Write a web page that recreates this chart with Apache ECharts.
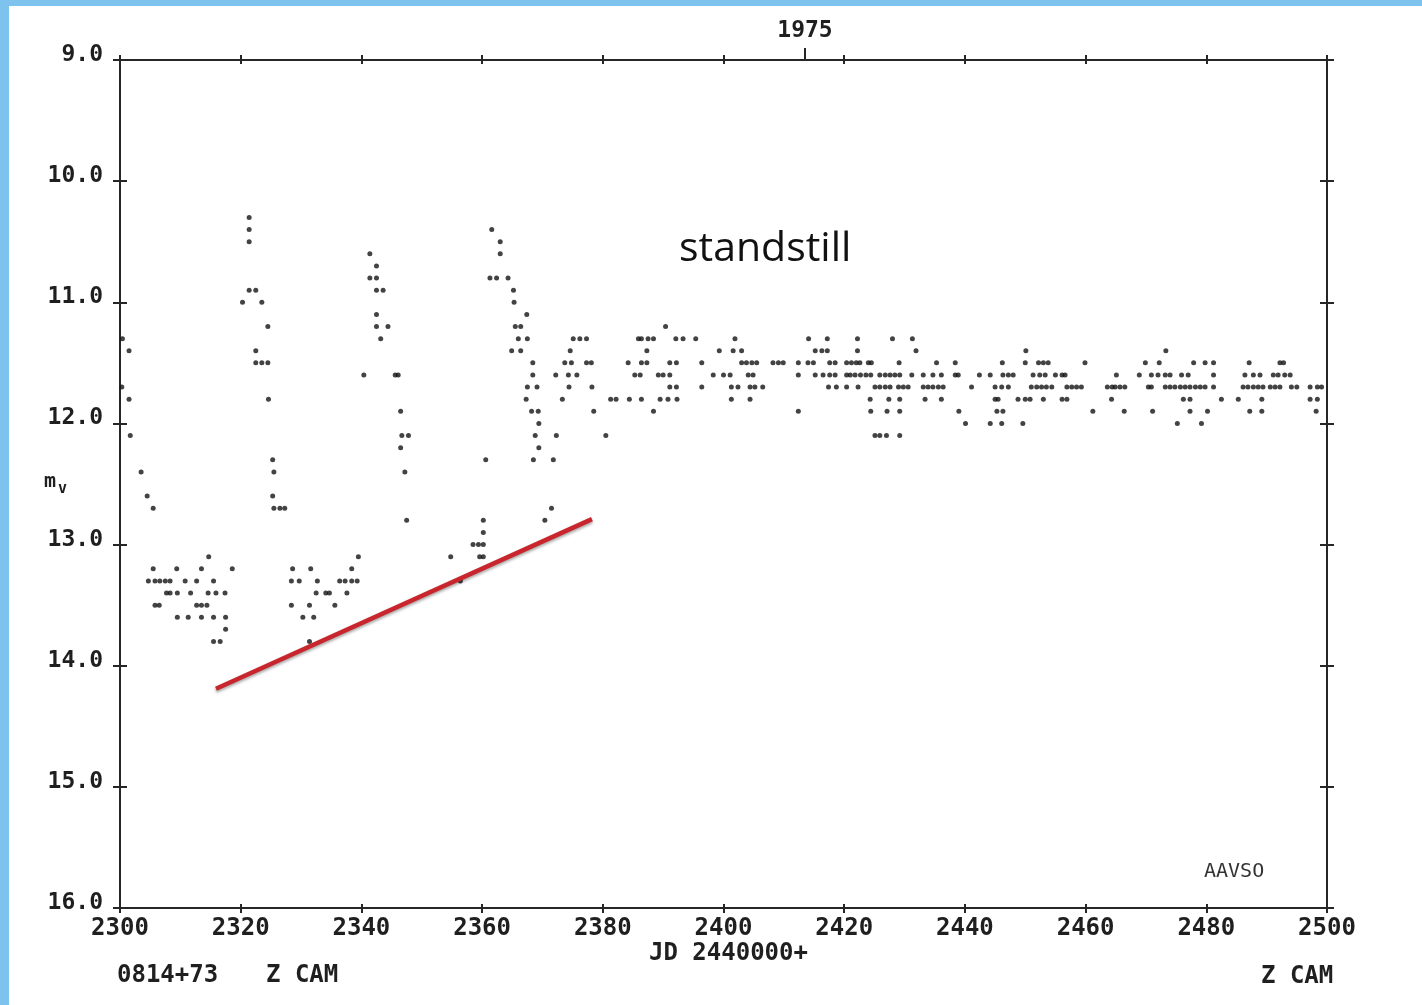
<!DOCTYPE html>
<html><head><meta charset="utf-8">
<script src="https://cdn.jsdelivr.net/npm/echarts@6/dist/echarts.min.js"></script>
<style>html,body{margin:0;padding:0;background:#fff}#c{width:1422px;height:1005px}</style>
</head><body><div id="c"></div><script>
// ---- axis definitions ----
const xRange = [2300, 2500];
const xStep = 20;
const yRange = [9, 16];
const yStep = 1;
const yearTickDays = [2413.5];
const yearTickLabels = ['1975'];

// ---- observations [JD-2440000, magnitude] ----
const declineAndQuiet1 = [
  [2300.4,11.3],[2301.5,11.4],[2300.3,11.7],[2301.5,11.8],[2301.7,12.1],[2303.5,12.4],[2304.5,12.6],[2305.5,12.7],
  [2314.7,13.1],
  [2305.5,13.2],[2309.4,13.2],[2313.5,13.2],[2318.6,13.2],
  [2304.7,13.3],[2305.8,13.3],[2306.6,13.3],[2307.5,13.3],[2308.3,13.3],[2310.8,13.3],[2312.7,13.3],[2315.5,13.3],
  [2307.7,13.4],[2308.3,13.4],[2309.5,13.4],[2311.7,13.4],[2314.6,13.4],[2315.9,13.4],[2317.4,13.4],
  [2305.8,13.5],[2306.5,13.5],[2312.7,13.5],[2313.5,13.5],[2314.4,13.5],
  [2309.5,13.6],[2311.3,13.6],[2313.5,13.6],[2315.5,13.6],[2317.5,13.6],
  [2317.5,13.7],[2315.5,13.8],[2316.6,13.8]
];
const outburst1 = [
  [2321.4,10.3],[2321.4,10.4],[2321.4,10.5],[2321.4,10.9],[2322.5,10.9],[2320.3,11.0],[2323.5,11.0],
  [2324.5,11.2],[2322.5,11.4],[2322.5,11.5],[2323.5,11.5],[2324.5,11.5],[2324.6,11.8],[2325.3,12.3],
  [2325.5,12.4],[2325.3,12.6],[2325.5,12.7],[2326.5,12.7],[2327.3,12.7]
];
const quiet2 = [
  [2339.5,13.1],
  [2328.6,13.2],[2331.6,13.2],[2338.4,13.2],
  [2328.4,13.3],[2329.7,13.3],[2332.7,13.3],[2336.4,13.3],[2337.3,13.3],[2338.4,13.3],[2339.3,13.3],
  [2332.5,13.4],[2334.1,13.4],[2334.7,13.4],[2337.6,13.4],
  [2328.4,13.5],[2331.4,13.5],[2335.6,13.5],
  [2330.3,13.6],[2332.1,13.6],[2331.4,13.8]
];
const outburst2 = [
  [2341.4,10.6],[2342.5,10.7],[2341.4,10.8],[2342.5,10.8],[2342.5,10.9],[2343.6,10.9],[2342.5,11.1],
  [2342.5,11.2],[2344.4,11.2],[2343.2,11.3],[2340.4,11.6],[2345.6,11.6],[2346.1,11.6],[2346.5,11.9],
  [2346.7,12.1],[2347.8,12.1],[2346.5,12.2],[2347.2,12.4],[2347.5,12.8]
];
const rise3 = [
  [2354.8,13.1],[2356.4,13.3],[2358.5,13.0],[2359.4,13.0],[2360.2,13.0],[2359.6,13.1],[2360.2,13.1],
  [2360.2,12.9],[2360.2,12.8],[2360.6,12.3]
];
const outburst3 = [
  [2361.6,10.4],[2363.0,10.5],[2363.0,10.6],[2361.3,10.8],[2362.4,10.8],[2364.3,10.8],[2365.2,10.9],
  [2365.3,11.0],[2367.4,11.1],[2365.5,11.2],[2366.4,11.2],[2366.0,11.3],[2367.5,11.3],[2364.9,11.4],
  [2366.4,11.4],[2368.4,11.5],[2368.4,11.6],[2367.5,11.7],[2369.1,11.7],[2367.3,11.8],[2368.2,11.9],
  [2369.3,11.9],[2369.4,12.0],[2368.8,12.1],[2372.3,12.1],[2369.4,12.2],[2368.5,12.3],[2371.8,12.3],
  [2371.5,12.7],[2370.4,12.8]
];
// standstill: [magnitude, days observed at that magnitude]
const standstillRows = [
  [11.2, [2390.4]],
  [11.3, [2375.1,2376.2,2377.3,2385.9,2386.4,2387.5,2388.4,2392.1,2393.3,2395.4,2401.9,2414.1,2417.2,2422.2,2428.0,2431.3]],
  [11.4, [2374.6,2387.3,2399.3,2401.6,2403.0,2415.2,2416.3,2417.2,2422.2,2431.9,2450.1,2473.3]],
  [11.5, [2373.7,2374.8,2377.3,2378.1,2384.2,2386.4,2387.3,2391.1,2392.2,2396.4,2403.0,2403.8,2404.7,2405.5,
          2408.2,2409.1,2409.9,2412.4,2414.0,2414.9,2417.6,2418.5,2420.4,2421.2,2422.0,2422.6,2424.0,2424.5,
          2429.1,2435.3,2438.4,2446.2,2450.0,2452.2,2453.0,2453.8,2459.9,2469.9,2472.2,2477.9,2479.8,2481.2,
          2487.1,2492.2,2492.8]],
  [11.6, [2372.2,2374.3,2375.7,2385.3,2386.2,2389.2,2390.0,2391.1,2398.3,2400.0,2401.1,2404.1,2404.9,2412.4,
          2415.2,2416.5,2417.6,2418.5,2420.4,2421.0,2421.8,2422.7,2423.6,2424.4,2425.9,2426.8,2427.6,2428.4,
          2429.2,2431.2,2433.1,2434.7,2436.1,2438.4,2438.9,2442.4,2444.2,2446.3,2447.2,2448.0,2451.3,2452.4,
          2453.3,2455.0,2456.1,2456.6,2465.1,2468.9,2470.9,2472.0,2473.2,2474.0,2475.9,2477.0,2481.2,2486.4,
          2487.8,2488.9,2491.1,2491.9,2493.0,2493.9]],
  [11.7, [2374.4,2378.2,2391.1,2392.2,2396.4,2401.3,2402.4,2404.4,2405.2,2406.5,2417.4,2418.7,2420.4,2422.3,
          2425.1,2425.9,2426.8,2427.6,2429.0,2429.8,2430.6,2433.1,2433.9,2434.7,2435.6,2436.4,2441.1,2445.0,
          2446.1,2447.2,2451.0,2451.9,2452.7,2453.5,2454.4,2456.9,2457.7,2458.5,2459.3,2463.6,2464.4,2464.9,
          2465.7,2466.5,2470.4,2470.9,2473.2,2474.0,2474.8,2475.7,2476.5,2477.3,2478.2,2479.0,2479.8,2481.2,
          2486.1,2486.9,2487.8,2488.6,2489.4,2490.6,2491.4,2492.2,2494.1,2495.0,2497.2,2498.4,2499.1]],
  [11.8, [2373.3,2381.3,2382.2,2384.4,2386.4,2389.5,2390.8,2392.3,2401.3,2404.4,2424.3,2427.4,2429.2,2433.4,
          2436.1,2445.0,2445.5,2448.8,2450.0,2450.8,2453.0,2456.1,2456.9,2464.3,2476.2,2477.3,2482.5,2485.3,
          2489.2,2497.2,2498.4]],
  [11.9, [2378.5,2388.4,2412.4,2424.4,2427.1,2429.2,2439.0,2445.3,2446.3,2461.2,2466.4,2471.1,2477.3,2480.2,
          2487.2,2489.2,2498.2]],
  [12.0, [2440.1,2444.2,2446.1,2449.6,2475.2,2479.2]],
  [12.1, [2380.5,2425.1,2425.9,2427.0,2429.2]]
];
// red trend line drawn on the chart (rising quiescent level)
const trendLine = [[2315.9,14.19],[2378.2,12.79]];

// ---- build ----
const standstillPts = [];
standstillRows.forEach(([m, days]) => days.forEach(d => standstillPts.push([d, m])));
const allPts = [].concat(declineAndQuiet1, outburst1, quiet2, outburst2, rise3, outburst3, standstillPts);

const MONO = 'DejaVu Sans Mono';
const INK = '#1f1f1f';
const lineStyle = {color: '#262626', width: 2};

function xAx(pos, opts) {
  return Object.assign({
    type: 'value', position: pos, min: xRange[0], max: xRange[1], interval: xStep,
    splitLine: {show: false}, axisLine: {show: false, lineStyle},
    axisTick: {show: true, inside: false, length: 5, lineStyle},
    axisLabel: {show: false}
  }, opts);
}
function yAx(pos, opts) {
  return Object.assign({
    type: 'value', position: pos, inverse: true, min: yRange[0], max: yRange[1], interval: yStep,
    splitLine: {show: false}, axisLine: {show: false, lineStyle},
    axisTick: {show: true, inside: false, length: 7, lineStyle},
    axisLabel: {show: false}
  }, opts);
}

const chart = echarts.init(document.getElementById('c'), null, {renderer: 'canvas'});
chart.setOption({
  animation: false,
  backgroundColor: '#ffffff',
  grid: {left: 120, right: 95, top: 60, bottom: 97, containLabel: false, outerBoundsMode: 'none'},
  xAxis: [
    xAx('bottom', {axisLine: {show: true, onZero: false, lineStyle},
      axisLabel: {show: true, margin: 9, fontFamily: MONO, fontSize: 24, fontWeight: 'bold', color: INK, formatter: v => String(v)}}),
    xAx('bottom', {axisTick: {show: true, inside: true, length: 4, lineStyle}}),
    xAx('top', {axisLine: {show: true, onZero: false, lineStyle}}),
    xAx('top', {axisTick: {show: true, inside: true, length: 4, lineStyle}}),
    xAx('top', {
      axisTick: {show: true, inside: false, length: 12, customValues: yearTickDays, lineStyle},
      axisLabel: {show: true, customValues: yearTickDays, margin: 17, fontFamily: MONO, fontSize: 23, fontWeight: 'bold', color: INK,
        formatter: v => yearTickLabels[yearTickDays.indexOf(v)] || ''}
    })
  ],
  yAxis: [
    yAx('left', {axisLine: {show: true, onZero: false, lineStyle},
      axisLabel: {show: true, margin: 17, fontFamily: MONO, fontSize: 23, fontWeight: 'bold', color: INK, formatter: v => v.toFixed(1),
        verticalAlign: 'bottom', lineHeight: 10}}),
    yAx('left', {axisTick: {show: true, inside: true, length: 7, lineStyle}}),
    yAx('right', {axisLine: {show: true, onZero: false, lineStyle}}),
    yAx('right', {axisTick: {show: true, inside: true, length: 7, lineStyle}})
  ],
  series: [
    {
      type: 'scatter', xAxisIndex: 0, yAxisIndex: 0, data: allPts,
      symbol: 'circle', symbolSize: 5, itemStyle: {color: '#141414'}, silent: true
    },
    {
      type: 'line', xAxisIndex: 0, yAxisIndex: 0, data: trendLine, showSymbol: false, symbol: 'none', silent: true,
      lineStyle: {color: '#c8262c', width: 4.5, shadowColor: 'rgba(0,0,0,0.35)', shadowBlur: 3, shadowOffsetY: 2}
    }
  ],
  graphic: [
    {type: 'rect', left: 0, top: 0, shape: {width: 9, height: 1005}, style: {fill: '#7dc3ee'}, z: 100},
    {type: 'rect', left: 0, top: 0, shape: {width: 1422, height: 6}, style: {fill: '#7dc3ee'}, z: 100},
    {type: 'text', left: 679, top: 229, style: {text: 'standstill', font: '41px "Open Sans"', fill: '#111'}},
    {type: 'text', left: 44, top: 472, style: {text: 'm', font: 'bold 20px "DejaVu Sans Mono"', fill: INK}},
    {type: 'text', left: 58, top: 482, style: {text: 'v', font: 'bold 15px "DejaVu Sans Mono"', fill: INK}},
    {type: 'text', left: 649, top: 942, style: {text: 'JD 2440000+', font: 'bold 24px "DejaVu Sans Mono"', fill: INK}},
    {type: 'text', left: 117, top: 964, style: {text: '0814+73', font: 'bold 24px "DejaVu Sans Mono"', fill: INK}},
    {type: 'text', left: 266, top: 964, style: {text: 'Z CAM', font: 'bold 24px "DejaVu Sans Mono"', fill: INK}},
    {type: 'text', left: 1261, top: 965, style: {text: 'Z CAM', font: 'bold 24px "DejaVu Sans Mono"', fill: INK}},
    {type: 'text', left: 1204, top: 862, style: {text: 'AAVSO', font: '20px "DejaVu Sans Mono"', fill: '#333'}}
  ]
});
</script></body></html>
